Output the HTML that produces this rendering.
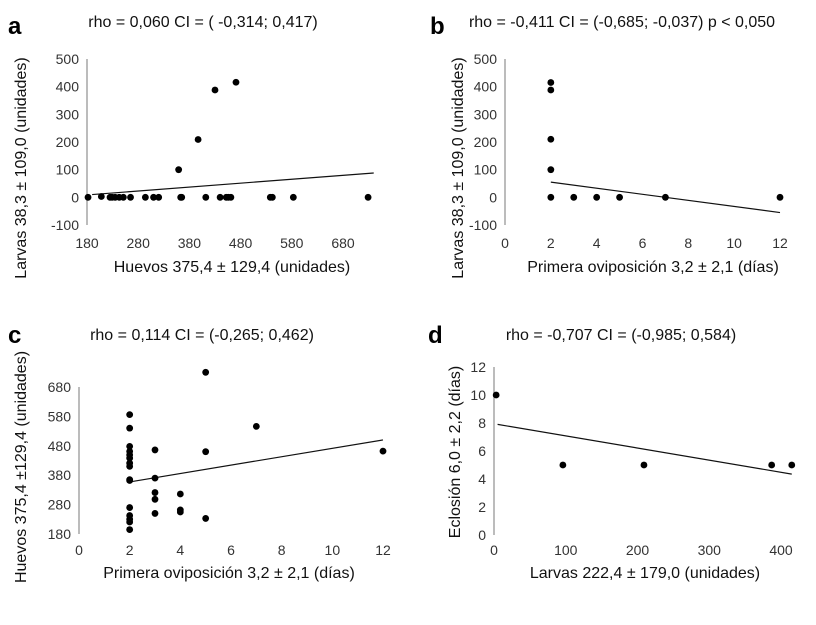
<!DOCTYPE html>
<html><head><meta charset="utf-8"><style>
body{margin:0;background:#fff;}
svg{display:block;font-family:"Liberation Sans",Arial,sans-serif;}
</style></head><body>
<svg id="fig" width="816" height="625" viewBox="0 0 816 625" xmlns="http://www.w3.org/2000/svg"></svg>
<script>
// Panel a: Huevos vs Larvas
const aX = [182,208,225,229,235,243,251,265,294,310,320,359,363,365,397,412,430,440,452,456,461,471,538,542,583,729];
const aY = [0,3,0,0,0,0,0,0,0,0,0,100,0,0,209,0,388,0,0,0,0,416,0,0,0,0];
const aTrend = [[190,10],[740,88]];
const aXTicks = [180,280,380,480,580,680];
const aYTicks = [-100,0,100,200,300,400,500];
// Panel b: Primera oviposicion vs Larvas
const bX = [2,2,2,2,2,3,4,5,7,12];
const bY = [415,388,210,100,0,0,0,0,0,0];
const bTrend = [[2,55],[12,-55]];
const bXTicks = [0,2,4,6,8,10,12];
const bYTicks = [-100,0,100,200,300,400,500];
// Panel c: Primera oviposicion vs Huevos
const cX = [2,2,2,2,2,2,2,2,2,2,2,2,2,2,2,3,3,3,3,3,4,4,4,5,5,5,7,12];
const cY = [586,540,478,461,449,438,421,410,365,362,270,243,230,221,195,466,370,321,298,250,316,262,255,730,460,233,546,462];
const cTrend = [[2,357],[12,500]];
const cXTicks = [0,2,4,6,8,10,12];
const cYTicks = [180,280,380,480,580,680];
// Panel d: Larvas vs Eclosion
const dX = [3,96,209,387,415];
const dY = [10,5,5,5,5];
const dTrend = [[5,7.9],[415,4.35]];
const dXTicks = [0,100,200,300,400];
const dYTicks = [0,2,4,6,8,10,12];

const NS="http://www.w3.org/2000/svg";
const svg=document.getElementById('fig');
function mk(tag,attrs,parent,text){const e=document.createElementNS(NS,tag);for(const k in attrs)e.setAttribute(k,attrs[k]);if(text!==undefined)e.textContent=text;(parent||svg).appendChild(e);return e;}

function panel(cfg){
  const g=mk('g',{});
  
  
  const sx=v=>cfg.x0+(v-cfg.xmin)/(cfg.xmax-cfg.xmin)*(cfg.x1-cfg.x0);
  const sy=v=>cfg.y0-(v-cfg.ymin)/(cfg.ymax-cfg.ymin)*(cfg.y0-cfg.y1);
  const L=mk('text',{x:cfg.lx,y:cfg.ly,'font-size':24,'font-weight':'bold',fill:'#000'},g,cfg.letter);
  
  
  const T=mk('text',{x:cfg.tx,y:cfg.ty,'font-size':16,'text-anchor':'middle',fill:'#111'},g,cfg.title);
  
  
  const ax=mk('line',{x1:cfg.x0,x2:cfg.x0,y1:sy(cfg.ymin),y2:sy(cfg.ymax),stroke:'#a6a6a6','stroke-width':1.5},g);
  
  
  cfg.yt.forEach(v=>{const t=mk('text',{x:cfg.x0-8,y:sy(v)+5,'font-size':14,'text-anchor':'end',fill:'#333'},g,String(v));
    
    });
  cfg.xt.forEach(v=>{const t=mk('text',{x:sx(v),y:cfg.xty,'font-size':14,'text-anchor':'middle',fill:'#333'},g,String(v));
    
    });
  const xt=mk('text',{x:cfg.xtx,y:cfg.xtty,'font-size':16,'text-anchor':'middle',fill:'#111'},g,cfg.xtitle);
  
  
  const yt=mk('text',{x:0,y:0,'font-size':16,'text-anchor':'middle',fill:'#111',transform:`translate(${cfg.ytx},${cfg.ytcy}) rotate(-90)`},g,cfg.ytitle);
  
  
  const tr=mk('line',{x1:sx(cfg.tr[0][0]),y1:sy(cfg.tr[0][1]),x2:sx(cfg.tr[1][0]),y2:sy(cfg.tr[1][1]),stroke:'#111','stroke-width':1.2},g);
  
  
  cfg.xs.forEach((v,i)=>{const c=mk('circle',{cx:sx(v),cy:sy(cfg.ys[i]),r:3.4,fill:'#000'},g);
    
    });
}

panel({id:'a',letter:'a',lx:8,ly:34,title:'rho = 0,060 CI = ( -0,314; 0,417)',tx:203,ty:27,
  x0:87,x1:343,xmin:180,xmax:680,y0:225,y1:59,ymin:-100,ymax:500,xs:aX,ys:aY,tr:aTrend,xt:aXTicks,yt:aYTicks,
  xty:248,xtitle:'Huevos 375,4 ± 129,4 (unidades)',xtx:232,xtty:272,ytitle:'Larvas 38,3 ± 109,0 (unidades)',ytx:26,ytcy:168});
panel({id:'b',letter:'b',lx:430,ly:34,title:'rho = -0,411 CI = (-0,685; -0,037) p < 0,050',tx:622,ty:27,
  x0:505,x1:780,xmin:0,xmax:12,y0:225,y1:59,ymin:-100,ymax:500,xs:bX,ys:bY,tr:bTrend,xt:bXTicks,yt:bYTicks,
  xty:248,xtitle:'Primera oviposición 3,2 ± 2,1 (días)',xtx:653,xtty:272,ytitle:'Larvas 38,3 ± 109,0 (unidades)',ytx:463,ytcy:168});
panel({id:'c',letter:'c',lx:8,ly:343,title:'rho = 0,114 CI = (-0,265; 0,462)',tx:202,ty:340,
  x0:79,x1:383,xmin:0,xmax:12,y0:534,y1:387,ymin:180,ymax:680,xs:cX,ys:cY,tr:cTrend,xt:cXTicks,yt:cYTicks,
  xty:555,xtitle:'Primera oviposición 3,2 ± 2,1 (días)',xtx:229,xtty:578,ytitle:'Huevos 375,4 ±129,4 (unidades)',ytx:26,ytcy:467});
panel({id:'d',letter:'d',lx:428,ly:343,title:'rho = -0,707 CI = (-0,985; 0,584)',tx:621,ty:340,
  x0:494,x1:781,xmin:0,xmax:400,y0:535,y1:367,ymin:0,ymax:12,xs:dX,ys:dY,tr:dTrend,xt:dXTicks,yt:dYTicks,
  xty:555,xtitle:'Larvas 222,4 ± 179,0 (unidades)',xtx:645,xtty:578,ytitle:'Eclosión 6,0 ± 2,2 (días)',ytx:460,ytcy:452});
</script>
</body></html>
